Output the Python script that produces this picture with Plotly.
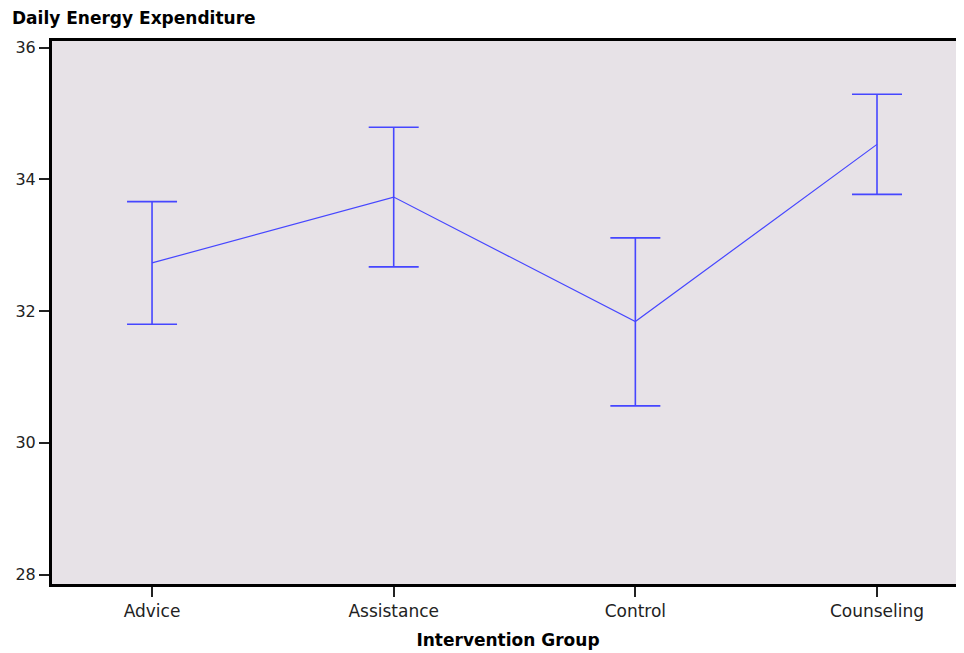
import plotly.graph_objects as go

groups = ["Advice", "Assistance", "Control", "Counseling"]
means = [32.73, 33.73, 31.84, 34.53]
upper = [33.66, 34.79, 33.11, 35.29]
lower = [31.80, 32.67, 30.56, 33.77]

err_plus = [u - m for u, m in zip(upper, means)]
err_minus = [m - l for m, l in zip(means, lower)]

blue = "#4646ff"
fig = go.Figure()
fig.add_trace(go.Scatter(
    x=list(range(len(groups))), y=means, mode="lines",
    line=dict(color=blue, width=1.2),
    error_y=dict(type="data", symmetric=False, array=err_plus, arrayminus=err_minus,
                 color=blue, thickness=1.6, width=25),
    showlegend=False, hoverinfo="skip",
))

fig.update_layout(
    width=956, height=645,
    margin=dict(l=44, r=0, t=33, b=69),
    paper_bgcolor="white", plot_bgcolor="#e7e2e7",
    font=dict(family="DejaVu Sans, Verdana, sans-serif", size=16, color="#222"),
    title=dict(text="<b>Daily Energy Expenditure</b>", xref="container", yref="container",
               x=4/956, xanchor="left", y=1-10/645, yanchor="middle",
               font=dict(size=17, color="black")),
)
fig.update_xaxes(
    range=[-0.414, 3.36], tickvals=list(range(len(groups))), ticktext=groups,
    tickfont=dict(size=17),
    showgrid=False, zeroline=False, showline=True, linecolor="black", linewidth=3,
    mirror=True, ticks="outside", ticklen=10, tickwidth=1.5, tickcolor="#222",
    title=dict(text="<b>Intervention Group</b>", font=dict(size=17, color="black"), standoff=14),
)
fig.update_yaxes(
    range=[27.856, 36.099], tickvals=[28, 30, 32, 34, 36],
    showgrid=False, zeroline=False, showline=True, linecolor="black", linewidth=3,
    ticks="outside", ticklen=10, tickwidth=1.5, tickcolor="#222",
)
fig.write_html("out.html")
